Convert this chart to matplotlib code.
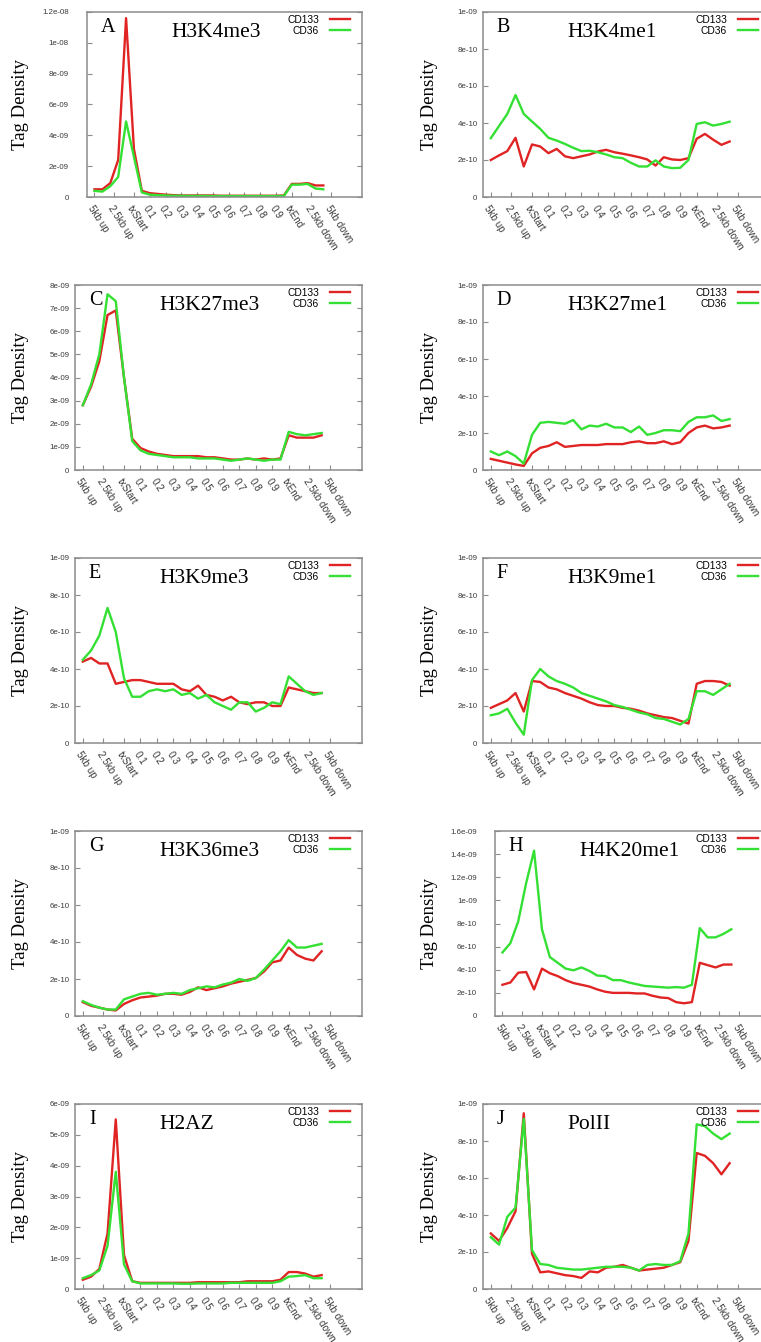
import numpy as np
import matplotlib.pyplot as plt
from matplotlib.ticker import FixedLocator, FuncFormatter

plt.rcParams['font.family'] = ['Liberation Sans', 'DejaVu Sans']

# profile bins: 5 x 1kb upstream, 20 gene-body bins, 4 x 1kb downstream
N_UP, N_BODY, N_DOWN = 5, 20, 4
bins = np.arange(N_UP + N_BODY + N_DOWN + 1)

BODY_FRACS = [0.1, 0.2, 0.3, 0.4, 0.5, 0.6, 0.7, 0.8, 0.9]
X_LABELS = ['5kb up', '2.5kb up', 'txStart'] + [str(f) for f in BODY_FRACS] + \
           ['txEnd', '2.5kb down', '5kb down']
X_TICKS = [0, N_UP / 2, N_UP] + [N_UP + f * N_BODY for f in BODY_FRACS] + \
          [N_UP + N_BODY, N_UP + N_BODY + 2.5, N_UP + N_BODY + 5]

# tag densities
A_CD133 = np.array([0.5, 0.5, 0.9, 2.4, 11.6, 3.1, 0.4, 0.25, 0.2, 0.15, 0.12, 0.1, 0.1, 0.1, 0.1,
                    0.1, 0.08, 0.08, 0.08, 0.08, 0.08, 0.08, 0.08, 0.08, 0.1, 0.85, 0.85, 0.9, 0.75, 0.75]) * 1e-9
A_CD36 = np.array([0.4, 0.35, 0.7, 1.3, 4.9, 2.6, 0.3, 0.15, 0.12, 0.1, 0.08, 0.08, 0.07, 0.07, 0.07,
                   0.06, 0.06, 0.06, 0.06, 0.06, 0.06, 0.06, 0.06, 0.06, 0.07, 0.8, 0.8, 0.85, 0.55, 0.5]) * 1e-9

B_CD133 = np.array([2.0, 2.25, 2.48, 3.2, 1.65, 2.84, 2.73, 2.37, 2.6, 2.2, 2.1, 2.2, 2.3, 2.46, 2.55,
                    2.42, 2.34, 2.25, 2.15, 2.03, 1.7, 2.15, 2.03, 2.0, 2.1, 3.15, 3.41, 3.1, 2.82, 3.0]) * 1e-10
B_CD36 = np.array([3.18, 3.84, 4.49, 5.51, 4.49, 4.08, 3.68, 3.2, 3.05, 2.87, 2.66, 2.48, 2.5, 2.42, 2.3,
                   2.15, 2.1, 1.85, 1.65, 1.65, 1.98, 1.65, 1.56, 1.58, 2.0, 3.95, 4.04, 3.86, 3.95, 4.07]) * 1e-10

C_CD133 = np.array([2.8, 3.6, 4.7, 6.7, 6.9, 4.0, 1.35, 0.95, 0.8, 0.7, 0.65, 0.6, 0.6, 0.6, 0.6,
                    0.55, 0.55, 0.5, 0.45, 0.45, 0.5, 0.45, 0.5, 0.45, 0.5, 1.5, 1.4, 1.4, 1.4, 1.5]) * 1e-9
C_CD36 = np.array([2.8, 3.7, 5.0, 7.6, 7.3, 4.0, 1.25, 0.85, 0.7, 0.65, 0.6, 0.55, 0.55, 0.55, 0.5,
                   0.5, 0.5, 0.45, 0.4, 0.45, 0.5, 0.45, 0.4, 0.45, 0.45, 1.65, 1.55, 1.5, 1.55, 1.6]) * 1e-9

D_CD133 = np.array([0.6, 0.5, 0.4, 0.3, 0.22, 0.9, 1.2, 1.3, 1.5, 1.25, 1.3, 1.35, 1.35, 1.35, 1.4,
                    1.4, 1.4, 1.5, 1.55, 1.45, 1.45, 1.55, 1.4, 1.5, 2.0, 2.3, 2.4, 2.25, 2.3, 2.4]) * 1e-10
D_CD36 = np.array([1.0, 0.8, 1.0, 0.75, 0.35, 1.9, 2.55, 2.6, 2.55, 2.5, 2.7, 2.2, 2.4, 2.35, 2.5,
                   2.3, 2.3, 2.05, 2.35, 1.9, 2.0, 2.15, 2.15, 2.1, 2.6, 2.85, 2.85, 2.95, 2.65, 2.75]) * 1e-10

E_CD133 = np.array([4.4, 4.6, 4.3, 4.3, 3.2, 3.3, 3.4, 3.4, 3.3, 3.2, 3.2, 3.2, 2.9, 2.8, 3.1,
                    2.6, 2.5, 2.3, 2.5, 2.2, 2.1, 2.2, 2.2, 2.0, 2.0, 3.0, 2.9, 2.8, 2.7, 2.7]) * 1e-10
E_CD36 = np.array([4.5, 5.0, 5.8, 7.3, 6.0, 3.5, 2.5, 2.5, 2.8, 2.9, 2.8, 2.9, 2.6, 2.7, 2.4,
                   2.6, 2.2, 2.0, 1.8, 2.2, 2.2, 1.7, 1.9, 2.2, 2.1, 3.6, 3.2, 2.8, 2.6, 2.7]) * 1e-10

F_CD133 = np.array([1.9, 2.1, 2.3, 2.7, 1.7, 3.35, 3.3, 3.0, 2.9, 2.7, 2.55, 2.4, 2.2, 2.05, 2.0,
                    2.0, 1.9, 1.85, 1.75, 1.6, 1.5, 1.4, 1.35, 1.2, 1.05, 3.2, 3.35, 3.35, 3.3, 3.1]) * 1e-10
F_CD36 = np.array([1.5, 1.6, 1.85, 1.1, 0.45, 3.4, 4.0, 3.6, 3.35, 3.2, 3.0, 2.7, 2.55, 2.4, 2.25,
                   2.05, 1.95, 1.8, 1.65, 1.55, 1.35, 1.3, 1.15, 1.0, 1.3, 2.8, 2.8, 2.6, 2.9, 3.2]) * 1e-10

G_CD133 = np.array([0.75, 0.55, 0.45, 0.35, 0.3, 0.65, 0.85, 1.0, 1.05, 1.1, 1.2, 1.2, 1.15, 1.3, 1.55,
                    1.4, 1.5, 1.6, 1.75, 1.85, 1.95, 2.05, 2.4, 2.9, 3.0, 3.7, 3.3, 3.1, 3.0, 3.5]) * 1e-10
G_CD36 = np.array([0.8, 0.6, 0.45, 0.35, 0.35, 0.9, 1.05, 1.2, 1.25, 1.15, 1.2, 1.25, 1.2, 1.4, 1.5,
                   1.6, 1.55, 1.7, 1.8, 2.0, 1.9, 2.05, 2.5, 3.0, 3.5, 4.1, 3.7, 3.7, 3.8, 3.9]) * 1e-10

H_CD133 = np.array([2.7, 2.9, 3.75, 3.8, 2.3, 4.1, 3.7, 3.45, 3.1, 2.85, 2.7, 2.55, 2.3, 2.1, 2.0,
                    2.0, 2.0, 1.95, 1.95, 1.75, 1.6, 1.55, 1.2, 1.1, 1.2, 4.6, 4.4, 4.2, 4.45, 4.45]) * 1e-10
H_CD36 = np.array([5.5, 6.3, 8.2, 11.5, 14.3, 7.5, 5.1, 4.6, 4.1, 3.95, 4.2, 3.9, 3.5, 3.45, 3.1,
                   3.1, 2.9, 2.75, 2.6, 2.55, 2.5, 2.45, 2.5, 2.45, 2.7, 7.6, 6.8, 6.8, 7.1, 7.5]) * 1e-10

I_CD133 = np.array([0.3, 0.4, 0.65, 1.8, 5.5, 1.1, 0.25, 0.2, 0.2, 0.2, 0.2, 0.2, 0.2, 0.2, 0.22,
                    0.22, 0.22, 0.22, 0.22, 0.22, 0.25, 0.25, 0.25, 0.25, 0.3, 0.55, 0.55, 0.5, 0.4, 0.45]) * 1e-9
I_CD36 = np.array([0.35, 0.45, 0.6, 1.4, 3.8, 0.8, 0.25, 0.18, 0.18, 0.18, 0.18, 0.18, 0.17, 0.17, 0.18,
                   0.18, 0.18, 0.18, 0.2, 0.2, 0.2, 0.2, 0.2, 0.2, 0.25, 0.4, 0.42, 0.45, 0.35, 0.35]) * 1e-9

J_CD133 = np.array([3.0, 2.6, 3.3, 4.2, 9.5, 1.9, 0.9, 0.95, 0.85, 0.75, 0.7, 0.6, 0.95, 0.9, 1.15,
                    1.2, 1.3, 1.15, 1.0, 1.05, 1.1, 1.15, 1.3, 1.45, 2.6, 7.35, 7.2, 6.8, 6.2, 6.8]) * 1e-10
J_CD36 = np.array([2.8, 2.4, 3.9, 4.4, 9.2, 2.1, 1.35, 1.3, 1.15, 1.1, 1.05, 1.05, 1.1, 1.15, 1.2,
                   1.2, 1.2, 1.15, 1.0, 1.3, 1.35, 1.3, 1.3, 1.5, 3.0, 8.9, 8.8, 8.4, 8.1, 8.4]) * 1e-10

# letter, mark, y max, y step, CD133, CD36
panels = [
    ('A', 'H3K4me3', 1.2e-8, 2e-9, A_CD133, A_CD36),
    ('B', 'H3K4me1', 1e-9, 2e-10, B_CD133, B_CD36),
    ('C', 'H3K27me3', 8e-9, 1e-9, C_CD133, C_CD36),
    ('D', 'H3K27me1', 1e-9, 2e-10, D_CD133, D_CD36),
    ('E', 'H3K9me3', 1e-9, 2e-10, E_CD133, E_CD36),
    ('F', 'H3K9me1', 1e-9, 2e-10, F_CD133, F_CD36),
    ('G', 'H3K36me3', 1e-9, 2e-10, G_CD133, G_CD36),
    ('H', 'H4K20me1', 1.6e-9, 2e-10, H_CD133, H_CD36),
    ('I', 'H2AZ', 6e-9, 1e-9, I_CD133, I_CD36),
    ('J', 'PolII', 1e-9, 2e-10, J_CD133, J_CD36),
]

RED = '#e02424'
GREEN = '#33e033'
SPINE = '#8c8c8c'
TXT = '#3a3a3a'
W, H = 761, 1342

fig = plt.figure(figsize=(W / 100, H / 100), dpi=100)

for k, (letter, mark, ymax, ystep, red, green) in enumerate(panels):
    row, col = divmod(k, 2)
    dx = 408 * col
    wide = len(f'{ymax:g}') > 5
    left = (87 if wide else 75) + dx
    right = 362 + dx
    top = 12 + 273 * row
    height = 185
    aw = right - left
    ax = fig.add_axes([left / W, 1 - (top + height) / H, aw / W, height / H])

    ax.plot(bins, red, color=RED, lw=1.7, label='CD133')
    ax.plot(bins, green, color=GREEN, lw=1.7, label='CD36')

    ax.set_xlim(-0.95, 33.9)
    ax.set_ylim(0, ymax)
    nt = int(round(ymax / ystep))
    ax.yaxis.set_major_locator(FixedLocator([i * ystep for i in range(nt + 1)]))
    ax.yaxis.set_major_formatter(FuncFormatter(lambda v, p: f'{v:.3g}'))
    ax.set_xticks(X_TICKS)
    ax.set_xticklabels(X_LABELS, rotation=-57, ha='left', va='top',
                       rotation_mode='anchor', fontsize=7.1, color=TXT)
    ax.tick_params(direction='in', length=3.5, width=0.8, color=SPINE, right=True)
    ax.tick_params(axis='y', labelsize=5.7, labelcolor=TXT, pad=13 if wide else 4)
    ax.tick_params(axis='x', pad=5)
    for s in ax.spines.values():
        s.set_color(SPINE)
        s.set_linewidth(1.1)

    ax.text((21 + dx - left) / aw, 0.5, 'Tag Density', transform=ax.transAxes,
            rotation=90, ha='center', va='center', family='Liberation Serif', fontsize=13.5)
    ax.annotate(letter, xy=(0, 1), xycoords='axes fraction', xytext=(10, -4),
                textcoords='offset points', ha='left', va='top',
                family='Liberation Serif', fontsize=14.5)
    ax.annotate(mark, xy=(0, 1), xycoords='axes fraction', xytext=(61, -8),
                textcoords='offset points', ha='left', va='top',
                family='Liberation Serif', fontsize=15.5)
    ax.legend(loc='upper right', bbox_to_anchor=(1 - 12 / aw, 1 - 3 / height),
              frameon=False, markerfirst=False, fontsize=7.4,
              handlelength=1.9, handletextpad=1.1, labelspacing=0.05,
              borderaxespad=0, borderpad=0)

fig.savefig('out.png', dpi=100)
